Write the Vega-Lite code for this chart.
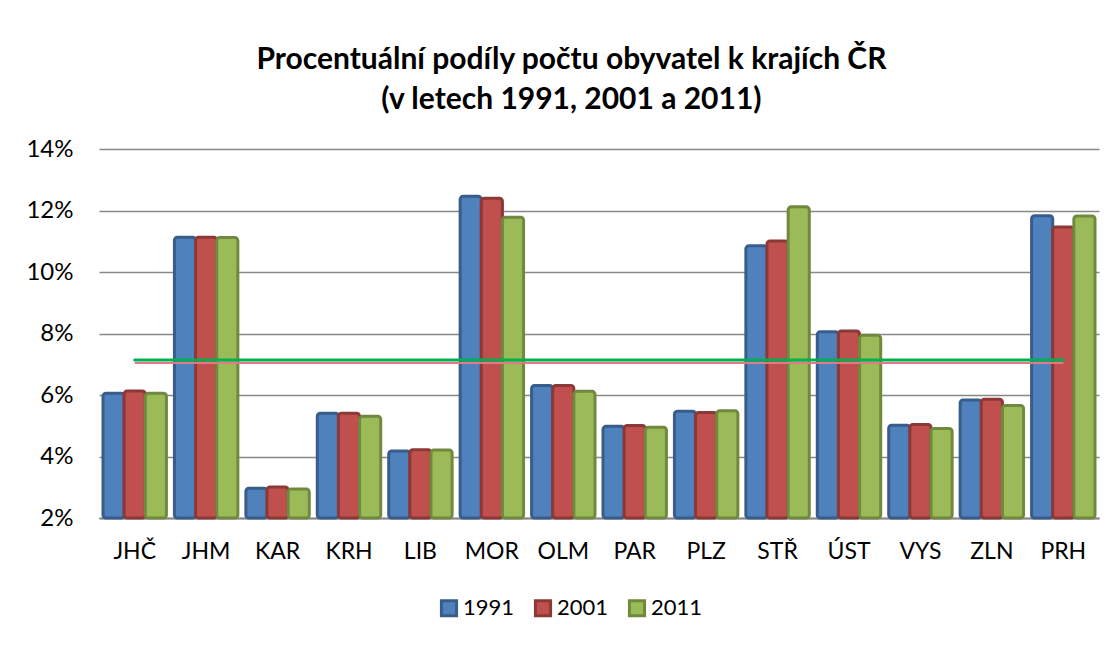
{
  "$schema": "https://vega.github.io/schema/vega-lite/v6.json",
  "autosize": "none",
  "width": 1000,
  "height": 369,
  "padding": {"left": 99, "top": 149, "right": 21, "bottom": 128},
  "background": "white",
  "config": {
    "font": "Lato",
    "view": {"stroke": null}
  },
  "title": {
    "text": ["Procentuální podíly počtu obyvatel k krajích ČR", "(v letech 1991, 2001 a 2011)"],
    "fontSize": 30,
    "fontWeight": "bold",
    "font": "Lato",
    "color": "#000000",
    "lineHeight": 40,
    "anchor": "middle",
    "frame": "bounds",
    "dx": 9,
    "offset": 22
  },
  "datasets": {
    "podily": [
      {"kraj": "JHČ", "rok": "1991", "podil": 0.0606},
      {"kraj": "JHČ", "rok": "2001", "podil": 0.0613},
      {"kraj": "JHČ", "rok": "2011", "podil": 0.0606},
      {"kraj": "JHM", "rok": "1991", "podil": 0.1113},
      {"kraj": "JHM", "rok": "2001", "podil": 0.1113},
      {"kraj": "JHM", "rok": "2011", "podil": 0.1112},
      {"kraj": "KAR", "rok": "1991", "podil": 0.0297},
      {"kraj": "KAR", "rok": "2001", "podil": 0.0301},
      {"kraj": "KAR", "rok": "2011", "podil": 0.0294},
      {"kraj": "KRH", "rok": "1991", "podil": 0.0541},
      {"kraj": "KRH", "rok": "2001", "podil": 0.0541},
      {"kraj": "KRH", "rok": "2011", "podil": 0.0531},
      {"kraj": "LIB", "rok": "1991", "podil": 0.0418},
      {"kraj": "LIB", "rok": "2001", "podil": 0.0422},
      {"kraj": "LIB", "rok": "2011", "podil": 0.0421},
      {"kraj": "MOR", "rok": "1991", "podil": 0.1246},
      {"kraj": "MOR", "rok": "2001", "podil": 0.1240},
      {"kraj": "MOR", "rok": "2011", "podil": 0.1178},
      {"kraj": "OLM", "rok": "1991", "podil": 0.0631},
      {"kraj": "OLM", "rok": "2001", "podil": 0.0631},
      {"kraj": "OLM", "rok": "2011", "podil": 0.0612},
      {"kraj": "PAR", "rok": "1991", "podil": 0.0498},
      {"kraj": "PAR", "rok": "2001", "podil": 0.0501},
      {"kraj": "PAR", "rok": "2011", "podil": 0.0495},
      {"kraj": "PLZ", "rok": "1991", "podil": 0.0547},
      {"kraj": "PLZ", "rok": "2001", "podil": 0.0543},
      {"kraj": "PLZ", "rok": "2011", "podil": 0.0549},
      {"kraj": "STŘ", "rok": "1991", "podil": 0.1085},
      {"kraj": "STŘ", "rok": "2001", "podil": 0.1101},
      {"kraj": "STŘ", "rok": "2011", "podil": 0.1212},
      {"kraj": "ÚST", "rok": "1991", "podil": 0.0806},
      {"kraj": "ÚST", "rok": "2001", "podil": 0.0808},
      {"kraj": "ÚST", "rok": "2011", "podil": 0.0794},
      {"kraj": "VYS", "rok": "1991", "podil": 0.0502},
      {"kraj": "VYS", "rok": "2001", "podil": 0.0504},
      {"kraj": "VYS", "rok": "2011", "podil": 0.0491},
      {"kraj": "ZLN", "rok": "1991", "podil": 0.0584},
      {"kraj": "ZLN", "rok": "2001", "podil": 0.0586},
      {"kraj": "ZLN", "rok": "2011", "podil": 0.0566},
      {"kraj": "PRH", "rok": "1991", "podil": 0.1183},
      {"kraj": "PRH", "rok": "2001", "podil": 0.1146},
      {"kraj": "PRH", "rok": "2011", "podil": 0.1182}
    ],
    "prumer": [
      {"od": "JHČ", "do": "PRH", "prumer": 0.0714}
    ]
  },
  "layer": [
    {
      "data": {"name": "podily"},
      "mark": {"type": "bar", "cornerRadius": 3, "strokeWidth": 3, "strokeJoin": "round"},
      "encoding": {
        "x": {
          "field": "kraj", "type": "nominal", "sort": null,
          "scale": {"paddingInner": 0.112, "paddingOuter": 0.056},
          "axis": {
            "title": null, "labelAngle": 0, "labelFontSize": 23, "labelColor": "#000000",
            "labelPadding": 22, "ticks": false, "domainColor": "#888888", "domainWidth": 2,
            "labelFont": "Lato"
          }
        },
        "xOffset": {"field": "rok", "type": "nominal", "scale": {"paddingInner": 0, "paddingOuter": 0}},
        "y": {
          "field": "podil", "type": "quantitative",
          "scale": {"domain": [0.02, 0.14], "zero": false, "nice": false},
          "axis": {
            "title": null, "format": ".0%", "values": [0.02, 0.04, 0.06, 0.08, 0.10, 0.12, 0.14],
            "labelFontSize": 24, "labelColor": "#000000", "labelPadding": 26,
            "domain": false, "ticks": false, "gridColor": "#888888", "gridWidth": 1.5,
            "labelFont": "Lato"
          }
        },
        "y2": {"datum": 0.02},
        "fill": {
          "field": "rok", "type": "nominal",
          "scale": {"domain": ["1991", "2001", "2011"], "range": ["#4F81BD", "#C0504D", "#9BBB59"]},
          "legend": {
            "title": null, "orient": "none", "direction": "horizontal",
            "legendX": 339, "legendY": 448,
            "symbolType": "square", "symbolSize": 230, "symbolStrokeWidth": 3,
            "labelFontSize": 22, "labelColor": "#000000", "labelFont": "Lato",
            "labelOffset": 3, "columnPadding": 14
          }
        },
        "stroke": {
          "field": "rok", "type": "nominal",
          "scale": {"domain": ["1991", "2001", "2011"], "range": ["#385D8A", "#8C3836", "#71893F"]},
          "legend": {
            "title": null, "orient": "none", "direction": "horizontal",
            "legendX": 339, "legendY": 448,
            "symbolType": "square", "symbolSize": 230, "symbolStrokeWidth": 3,
            "labelFontSize": 22, "labelColor": "#000000", "labelFont": "Lato",
            "labelOffset": 3, "columnPadding": 14
          }
        }
      }
    },
    {
      "data": {"name": "prumer"},
      "mark": {"type": "rule", "color": "#E07A88", "strokeWidth": 2, "yOffset": 3},
      "encoding": {
        "x": {"field": "od", "type": "nominal", "sort": null},
        "x2": {"field": "do"},
        "y": {"field": "prumer", "type": "quantitative"}
      }
    },
    {
      "data": {"name": "prumer"},
      "mark": {"type": "rule", "color": "#00B050", "strokeWidth": 3, "strokeCap": "round"},
      "encoding": {
        "x": {"field": "od", "type": "nominal", "sort": null},
        "x2": {"field": "do"},
        "y": {"field": "prumer", "type": "quantitative"}
      }
    }
  ]
}
